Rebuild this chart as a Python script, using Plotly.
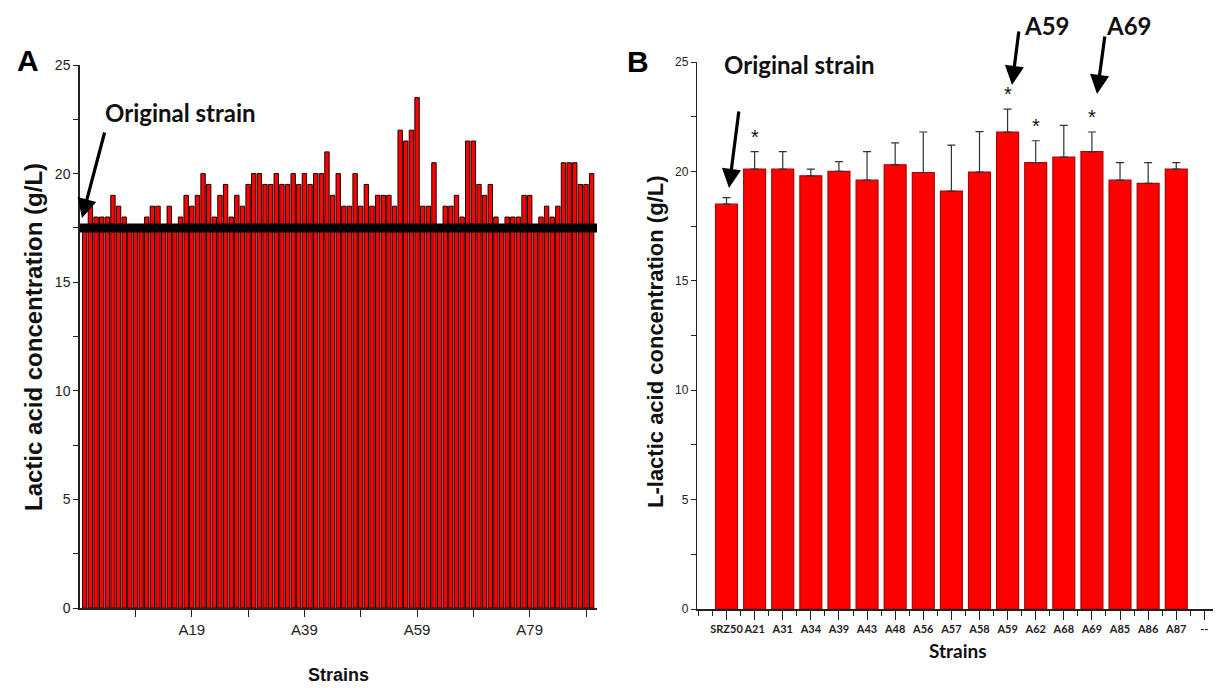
import plotly.graph_objects as go

W, H = 1221, 688
OFF = 8  # page body margin of the html page

# ---------------- Panel A data ----------------
a_idx = list(range(91))
a_values = [17.5, 18.5, 18, 18, 18, 19, 18.5, 18, 17.5, 17.5,
            17.5, 18, 18.5, 18.5, 17.5, 18.5, 17.5, 18, 19, 18.5,
            19, 20, 19.5, 18, 19, 19.5, 18, 19, 18.5, 19.5,
            20, 20, 19.5, 19.5, 20, 19.5, 19.5, 20, 19.5, 20,
            19.5, 20, 20, 21, 19, 20, 18.5, 18.5, 20, 18.5,
            19.5, 18.5, 19, 19, 19, 18.5, 22, 21.5, 22, 23.5,
            18.5, 18.5, 20.5, 17.5, 18.5, 18.5, 19, 18, 21.5, 21.5,
            19.5, 19, 19.5, 18, 17.5, 18, 18, 18, 19, 19,
            17.5, 18, 18.5, 18, 18.5, 20.5, 20.5, 20.5, 19.5, 19.5,
            20]
a_tickvals = [9, 19, 29, 39, 49, 59, 69, 79, 89]
a_ticktext = ["", "A19", "", "A39", "", "A59", "", "A79", ""]
a_baseline = 17.5

# ---------------- Panel B data ----------------
b_strains = ["SRZ50", "A21", "A31", "A34", "A39", "A43", "A48", "A56", "A57",
             "A58", "A59", "A62", "A68", "A69", "A85", "A86", "A87"]
b_values = [18.5, 20.1, 20.1, 19.8, 20.0, 19.6, 20.3, 19.95, 19.1,
            19.97, 21.8, 20.4, 20.65, 20.9, 19.6, 19.45, 20.1]
b_err = [0.3, 0.8, 0.8, 0.3, 0.45, 1.3, 1.0, 1.85, 2.1,
         1.85, 1.05, 1.0, 1.45, 0.9, 0.8, 0.95, 0.3]
b_marked = ["A21", "A59", "A62", "A69"]
b_ticklabels = b_strains + ["--"]

y_ticks = [0, 2.5, 5, 7.5, 10, 12.5, 15, 17.5, 20, 22.5, 25]
y_ticktext = ["0", "", "5", "", "10", "", "15", "", "20", "", "25"]

hum = "Lato, Open Sans, sans-serif"
arial = "Liberation Sans, Arial, sans-serif"

fig = go.Figure()

fig.add_trace(go.Bar(
    x=a_idx, y=a_values, xaxis="x", yaxis="y",
    marker=dict(color="#ff0000", line=dict(color="#1a0000", width=1)),
    showlegend=False,
))

b_pos = list(range(len(b_strains)))
fig.add_trace(go.Bar(
    x=b_pos, y=b_values, xaxis="x2", yaxis="y2", width=0.78,
    marker=dict(color="#ff0000", line=dict(color="#b00000", width=1.2)),
    error_y=dict(type="data", symmetric=False, array=b_err,
                 arrayminus=[0] * len(b_err), color="#333333",
                 thickness=1.2, width=4),
    showlegend=False,
))

def px(x):
    return (x - OFF) / W

def py(y):
    return 1 - (y - OFF) / H

fig.update_layout(
    width=W, height=H,
    margin=dict(l=0, r=0, t=0, b=0, autoexpand=False),
    paper_bgcolor="white", plot_bgcolor="white",
    bargap=0.22,
    xaxis=dict(domain=[px(80), px(597)], range=[-0.85, 90.95], automargin=False,
               tickmode="array", tickvals=a_tickvals, ticktext=a_ticktext,
               ticks="outside", ticklen=7, tickwidth=1.3, tickcolor="#222",
               showline=True, linecolor="#222", linewidth=1.5,
               showgrid=False, zeroline=False,
               tickfont=dict(family=arial, size=15, color="#222")),
    yaxis=dict(domain=[py(608), py(65)], range=[0, 25], automargin=False,
               tickmode="array", tickvals=y_ticks, ticktext=y_ticktext,
               ticks="outside", ticklen=5, tickwidth=1.2, tickcolor="#222",
               showline=True, linecolor="#222", linewidth=1.5,
               showgrid=False, zeroline=False,
               tickfont=dict(family=arial, size=14, color="#222")),
    xaxis2=dict(domain=[px(697), px(1217)], range=[-1.05, 17.45], automargin=False,
                tickmode="array", tickvals=list(range(len(b_ticklabels))),
                ticktext=b_ticklabels, tickangle=0,
                ticks="outside", ticklen=9, tickwidth=1.3, tickcolor="#222",
                minor=dict(tickvals=[v - 0.5 for v in range(len(b_ticklabels) + 1)] + [-1],
                           ticks="outside", ticklen=5, tickwidth=1.2, tickcolor="#222"),
                showline=True, linecolor="#222", linewidth=1.5,
                showgrid=False, zeroline=False, anchor="y2",
                tickfont=dict(family=hum, size=11, color="#222", weight="bold")),
    yaxis2=dict(domain=[py(609), py(62)], range=[0, 25], anchor="x2", automargin=False,
                tickmode="array", tickvals=y_ticks, ticktext=y_ticktext,
                ticks="outside", ticklen=5, tickwidth=1.2, tickcolor="#222",
                showline=True, linecolor="#222", linewidth=1.3,
                showgrid=False, zeroline=False,
                tickfont=dict(family=arial, size=12, color="#222")),
)

# thick "original strain" reference line in panel A
fig.add_shape(type="line", xref="x domain", yref="y", x0=0, x1=1,
              y0=a_baseline, y1=a_baseline,
              line=dict(color="black", width=9))

ann = []

def label(text, x, y, font, angle=0):
    return dict(text=text, x=px(x), y=py(y), xref="paper", yref="paper",
                xanchor="center", yanchor="middle", textangle=angle,
                showarrow=False, font=font)

# panel letters
ann.append(label("<b>A</b>", 28, 60, dict(family=arial, size=30, color="black")))
ann.append(label("<b>B</b>", 638, 61, dict(family=arial, size=30, color="black")))
# axis titles
ann.append(label("<b>Lactic acid concentration (g/L)</b>", 33, 337,
                 dict(family=arial, size=24, color="#111"), -90))
ann.append(label("<b>L-lactic acid concentration (g/L)</b>", 655, 342,
                 dict(family=arial, size=22, color="#111"), -90))
ann.append(label("<b>Strains</b>", 338, 675, dict(family=arial, size=18, color="#111")))
ann.append(label("<b>Strains</b>", 958, 650, dict(family=hum, size=19, color="#111")))
# labels with arrows
lab_font = dict(family=hum, size=24, color="#111")
ann.append(label("<b>Original strain</b>", 180, 112, lab_font))
ann.append(label("<b>Original strain</b>", 799, 64, lab_font))
ann.append(label("<b>A59</b>", 1047, 25, lab_font))
ann.append(label("<b>A69</b>", 1129, 25, lab_font))

def arrow(tail, head):
    return dict(text="", x=px(head[0]), y=py(head[1]), xref="paper", yref="paper",
                ax=tail[0] - head[0], ay=tail[1] - head[1], axref="pixel", ayref="pixel",
                showarrow=True, arrowhead=2, arrowsize=1.2, arrowwidth=3.2,
                arrowcolor="black")

ann.append(arrow((105, 131), (82, 218)))
ann.append(arrow((739, 110), (729, 188)))
ann.append(arrow((1019, 30), (1012, 85)))
ann.append(arrow((1105, 35), (1097, 94)))

# significance asterisks
for s in b_marked:
    i = b_strains.index(s)
    ann.append(dict(text="*", x=i, y=b_values[i] + b_err[i], xref="x2", yref="y2",
                    showarrow=False, xanchor="center", yanchor="bottom", yshift=2,
                    font=dict(family=arial, size=20, color="#111")))

fig.update_layout(annotations=ann)
fig.write_html("out.html")
